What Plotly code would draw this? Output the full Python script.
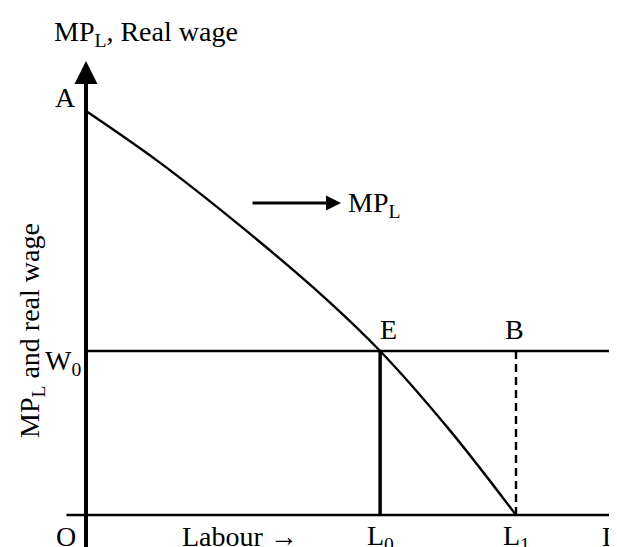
import plotly.graph_objects as go

# Data (economic units)
labour = [0, 1.67, 3.54, 5.56, 6.84, 8.42, 10]
mpl = [10, 8.76, 7.20, 5.37, 4.06, 2.15, 0]
W0 = 4.06
L0 = 6.84
L1 = 10

FONT = "Liberation Serif"
FS = 28
W, H = 617, 547
# pixel mapping for the axis ranges (origin and scale of the drawing)
ox, oy = 78, 507
sx, sy = 43.0, 40.4
xr = [(0 - ox) / sx, (W - ox) / sx]
yr = [(oy - H) / sy, (oy - 0) / sy]

def px2x(p):
    return (p - ox) / sx

def py2y(p):
    return (oy - p) / sy

fig = go.Figure()

def line(xs, ys, width, dash=None, shape="linear"):
    fig.add_trace(go.Scatter(x=xs, y=ys, mode="lines",
                             line=dict(color="black", width=width, dash=dash, shape=shape),
                             hoverinfo="skip", showlegend=False))

# MPL curve
line(labour, mpl, 2.4, shape="spline")
# Wage line
line([0, xr[1]], [W0, W0], 2.4)
# Vertical at L0
line([L0, L0], [0, W0], 3.5)
# Dashed vertical at L1
line([L1, L1], [0, W0], 2.4, dash="8px,5px")

ann = []
# Y axis with arrow
ann.append(dict(x=0, y=py2y(53), ax=0, ay=yr[0], xref="x", yref="y", axref="x", ayref="y",
                showarrow=True, arrowhead=2, arrowsize=1.15, arrowwidth=4, arrowcolor="black", text=""))
# X axis with arrow
ann.append(dict(x=px2x(615), y=0, ax=px2x(57), ay=0, xref="x", yref="y", axref="x", ayref="y",
                showarrow=True, arrowhead=2, arrowsize=1.1, arrowwidth=2.5, arrowcolor="black", text=""))
# MPL pointer arrow
ann.append(dict(x=px2x(333), y=py2y(195), ax=px2x(243), ay=py2y(195), xref="x", yref="y", axref="x", ayref="y",
                showarrow=True, arrowhead=2, arrowsize=1.0, arrowwidth=3, arrowcolor="black", text=""))

def txt(x, y, s, xref="x", yref="y", xanchor="center", yanchor="middle", angle=0, size=FS):
    ann.append(dict(x=x, y=y, xref=xref, yref=yref, text=s, showarrow=False, xanchor=xanchor, yanchor=yanchor,
                    textangle=angle, font=dict(family=FONT, size=size, color="black")))

txt(px2x(338), py2y(196), "MP<sub>L</sub>", xanchor="left")
txt(px2x(57), py2y(89), "A")
txt(px2x(380), py2y(321), "E")
txt(px2x(506), py2y(321), "B")
txt(px2x(55), py2y(354), "W<sub>0</sub>")
txt(px2x(58), py2y(528), "O")
txt(L0, py2y(529), "L<sub>0</sub>")
txt(L1, py2y(529), "L<sub>1</sub>")
txt(px2x(602), py2y(528), "L")
txt(232 / W, 1 - 528 / H, "Labour →", xref="paper", yref="paper")
txt(138 / W, 1 - 26 / H, "MP<sub>L</sub>, Real wage", xref="paper", yref="paper")
txt(23 / W, 1 - 323 / H, "MP<sub>L</sub> and real wage", xref="paper", yref="paper", angle=-90)

fig.update_layout(
    width=W, height=H, margin=dict(l=0, r=0, t=0, b=0),
    paper_bgcolor="white", plot_bgcolor="white",
    xaxis=dict(range=xr, visible=False, fixedrange=True),
    yaxis=dict(range=yr, visible=False, fixedrange=True),
    annotations=ann, showlegend=False,
)

fig.write_html("out.html")
